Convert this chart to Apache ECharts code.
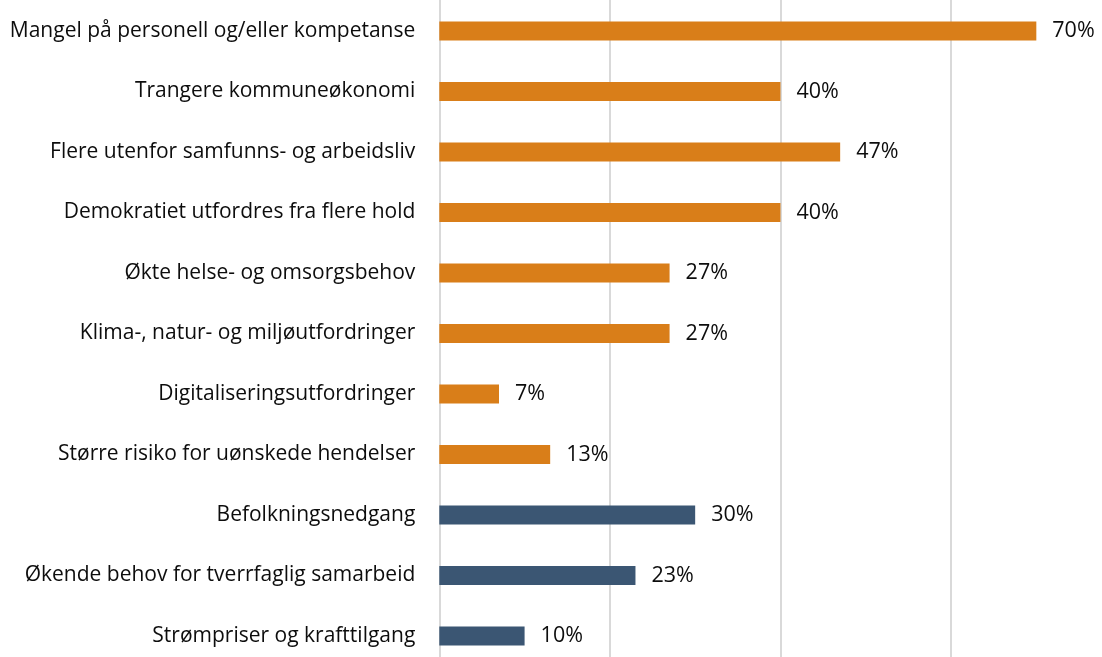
<!DOCTYPE html>
<html>
<head>
<meta charset="utf-8">
<script src="https://cdn.jsdelivr.net/npm/echarts@6/dist/echarts.min.js"></script>
<style>html,body{margin:0;padding:0;background:#fff;}#c{width:1102px;height:657px;}</style>
</head>
<body>
<div id="c"></div>
<script>
const categories = [
  "Mangel på personell og/eller kompetanse",
  "Trangere kommuneøkonomi",
  "Flere utenfor samfunns- og arbeidsliv",
  "Demokratiet utfordres fra flere hold",
  "Økte helse- og omsorgsbehov",
  "Klima-, natur- og miljøutfordringer",
  "Digitaliseringsutfordringer",
  "Større risiko for uønskede hendelser",
  "Befolkningsnedgang",
  "Økende behov for tverrfaglig samarbeid",
  "Strømpriser og krafttilgang"
];
const values = [70, 40, 47, 40, 27, 27, 7, 13, 30, 23, 10];
const groups = ["a","a","a","a","a","a","a","a","b","b","b"];
const groupColors = { a: "#D97E19", b: "#3B5673" };
const xMin = 0, xMax = 77.7, xStep = 20;

const FONT = 'Open Sans';
const chart = echarts.init(document.getElementById('c'), null, {renderer: 'canvas'});
chart.setOption({
  animation: false,
  grid: [
    { left: 439.3, top: 0, right: 0, bottom: 0, containLabel: false },
    { left: 439.3, top: 31, right: 0, height: 605, containLabel: false }
  ],
  xAxis: [
    {
      gridIndex: 0, type: 'value', min: xMin, max: xMax, interval: xStep,
      axisLabel: { show: false }, axisLine: { show: false }, axisTick: { show: false },
      splitLine: { show: true, showMinLine: true, showMaxLine: false, lineStyle: { color: '#d9d9d9', width: 2 } }
    },
    {
      gridIndex: 1, type: 'value', min: xMin, max: xMax, interval: xStep,
      axisLabel: { show: false }, axisLine: { show: false }, axisTick: { show: false },
      splitLine: { show: false }
    }
  ],
  yAxis: [
    {
      gridIndex: 0, type: 'value', min: 0, max: 1, show: false
    },
    {
      gridIndex: 1, type: 'category', data: categories, inverse: true, boundaryGap: false,
      axisLine: { show: false }, axisTick: { show: false }, splitLine: { show: false },
      axisLabel: { color: '#0d0d0d', fontFamily: FONT, fontSize: 21, margin: 24 }
    }
  ],
  series: [{
    type: 'bar', xAxisIndex: 1, yAxisIndex: 1,
    data: values.map((v, i) => ({ value: v, itemStyle: { color: groupColors[groups[i]] } })),
    barWidth: 19,
    label: {
      show: true, position: 'right', distance: 16,
      formatter: p => p.value + '%',
      color: '#0d0d0d', fontFamily: FONT, fontSize: 21.5
    }
  }]
});
</script>
</body>
</html>
